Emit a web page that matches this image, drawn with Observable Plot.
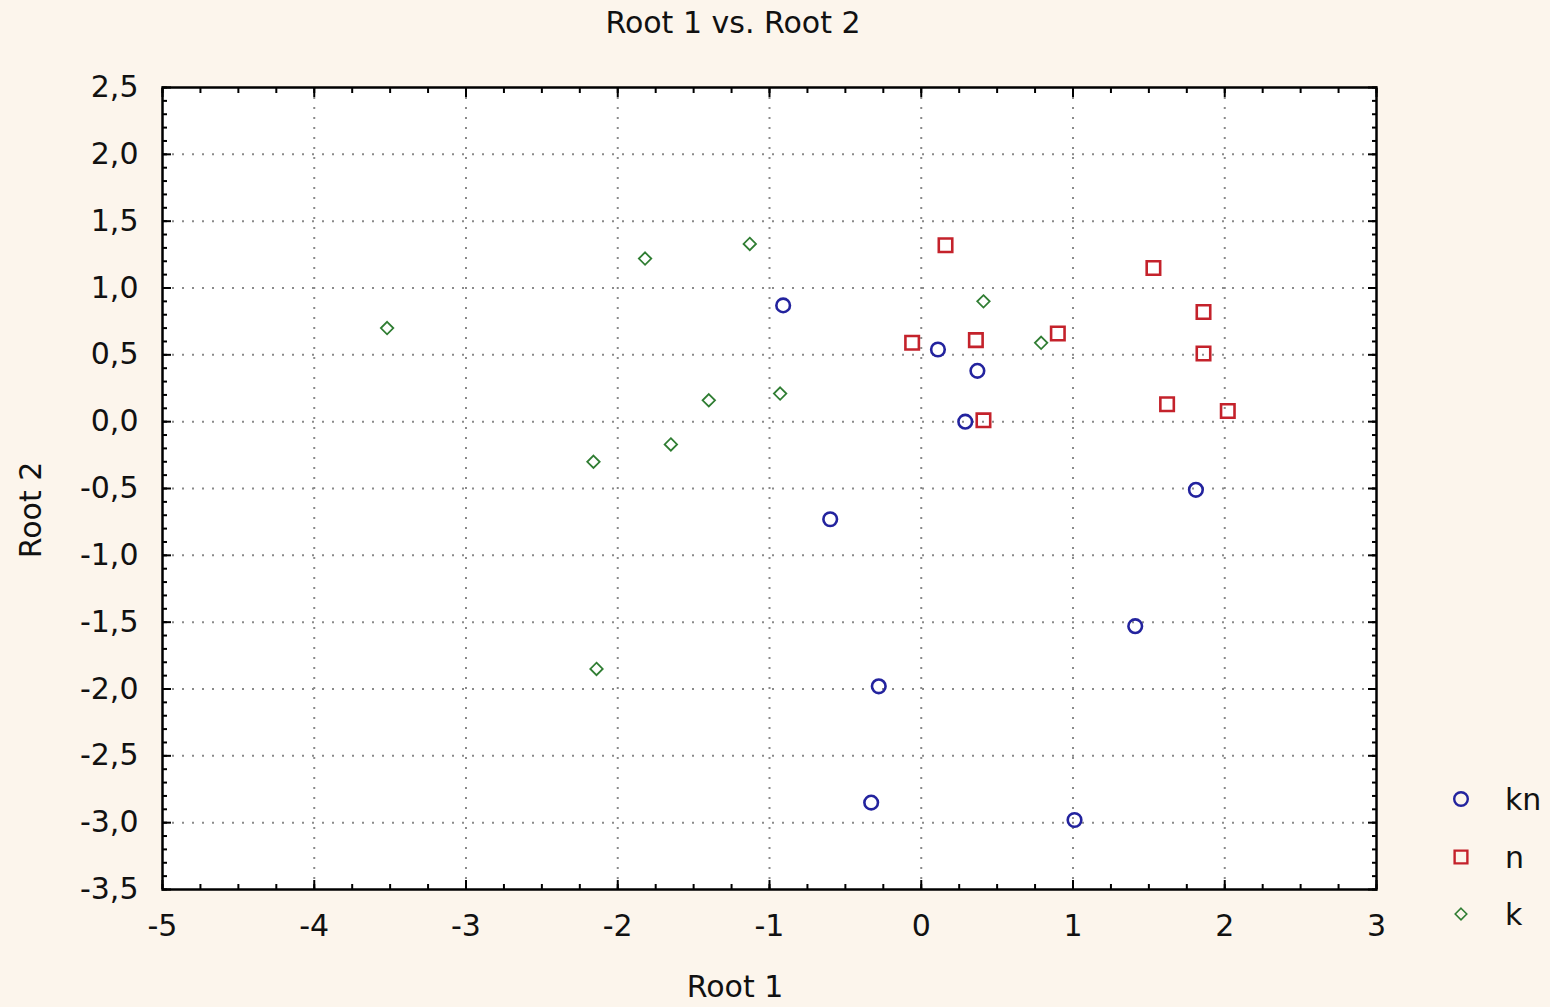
<!DOCTYPE html>
<html><head><meta charset="utf-8">
<script src="https://cdn.jsdelivr.net/npm/d3@7"></script>
<script src="https://cdn.jsdelivr.net/npm/@observablehq/plot@0.6"></script>
<style>
html,body{margin:0;padding:0;background:#fcf5ec;}
#wrap{position:relative;width:1550px;height:1007px;background:#fcf5ec;font-family:"DejaVu Sans",sans-serif;color:#111;overflow:hidden;}
#wrap svg.plot{position:absolute;left:0;top:0;}
.lbl{position:absolute;font-size:30px;line-height:30px;white-space:nowrap;}
#title{left:0;width:1466px;text-align:center;top:8px;}
#xlabel{left:0;width:1470px;text-align:center;top:972px;}
#ylabel{left:-19px;width:100px;text-align:center;top:495px;transform:rotate(-90deg);}
#legend{position:absolute;left:1440px;top:780px;}
</style></head><body>
<div id="wrap">
  <div id="title" class="lbl">Root 1 vs. Root 2</div>
  <div id="xlabel" class="lbl">Root 1</div>
  <div id="ylabel" class="lbl">Root 2</div>
</div>
<script>
// Series: kn (blue circles)
const knRoot1 = [-0.91, 0.11, 0.37, 0.29, -0.60, 1.81, 1.41, -0.28, -0.33, 1.01];
const knRoot2 = [0.87, 0.54, 0.38, 0.00, -0.73, -0.51, -1.53, -1.98, -2.85, -2.98];
// Series: n (red squares)
const nRoot1 = [0.16, 1.53, 1.86, -0.06, 0.36, 0.90, 1.86, 1.62, 2.02, 0.41];
const nRoot2 = [1.32, 1.15, 0.82, 0.59, 0.61, 0.66, 0.51, 0.13, 0.08, 0.01];
// Series: k (green diamonds)
const kRoot1 = [-1.82, -1.13, -1.40, -0.93, -1.65, 0.41, 0.79, -3.52, -2.16, -2.14];
const kRoot2 = [1.22, 1.33, 0.16, 0.21, -0.17, 0.90, 0.59, 0.70, -0.30, -1.85];

const seriesNames = ["kn", "n", "k"];
const xTickValues = [-5, -4, -3, -2, -1, 0, 1, 2, 3];
const yTickValues = [-3.5, -3.0, -2.5, -2.0, -1.5, -1.0, -0.5, 0.0, 0.5, 1.0, 1.5, 2.0, 2.5];

const colors = {kn: "#23239e", n: "#c4222b", k: "#2f7d32"};
const toRows = (xs, ys) => xs.map((x, i) => ({x, y: ys[i]}));
const kn = toRows(knRoot1, knRoot2);
const n = toRows(nRoot1, nRoot2);
const k = toRows(kRoot1, kRoot2);

const xMinor = d3.range(-20, 13).map(v => v / 4);
const yMinor = d3.range(-35, 26).map(v => v / 10);
const xGrid = xTickValues.slice(1, -1);
const yGrid = yTickValues.slice(1, -1);

const fmtY = d => d.toFixed(1).replace(".", ",");
const fmtX = d => String(d);

const gridStyle = {stroke: "#8a8a8a", strokeOpacity: 1, strokeDasharray: "2,8", strokeWidth: 2};
const tickStyle = {fill: null, stroke: "#000", strokeWidth: 2};

const chart = Plot.plot({
  width: 1550, height: 1007,
  marginLeft: 162, marginRight: 174, marginTop: 87, marginBottom: 118,
  style: {background: "transparent", fontFamily: "DejaVu Sans, sans-serif", fontSize: "30px", color: "#111", overflow: "visible"},
  x: {domain: [-5, 3]},
  y: {domain: [-3.5, 2.5]},
  marks: [
    Plot.frame({fill: "white", stroke: "none"}),
    Plot.gridX(xGrid, gridStyle),
    Plot.gridY(yGrid, gridStyle),
    // labels
    Plot.axisX(xTickValues, {anchor: "bottom", stroke: null, tickSize: 0, tickPadding: 25, tickFormat: fmtX, label: null, fill: "#111"}),
    Plot.axisY(yTickValues, {anchor: "left", stroke: null, tickSize: 0, tickPadding: 24, tickFormat: fmtY, label: null, fill: "#111"}),
    // inward minor ticks
    Plot.axisX(xMinor, {anchor: "bottom", tickSize: -5, label: null, ...tickStyle}),
    Plot.axisX(xMinor, {anchor: "top", tickSize: -5, label: null, ...tickStyle}),
    Plot.axisY(yMinor, {anchor: "left", tickSize: -5, label: null, ...tickStyle}),
    Plot.axisY(yMinor, {anchor: "right", tickSize: -5, label: null, ...tickStyle}),
    // inward major ticks
    Plot.axisX(xTickValues, {anchor: "bottom", tickSize: -9, label: null, ...tickStyle}),
    Plot.axisX(xTickValues, {anchor: "top", tickSize: -9, label: null, ...tickStyle}),
    Plot.axisY(yTickValues, {anchor: "left", tickSize: -9, label: null, ...tickStyle}),
    Plot.axisY(yTickValues, {anchor: "right", tickSize: -9, label: null, ...tickStyle}),
    // data
    Plot.dot(k, {x: "x", y: "y", symbol: "diamond2", r: 5.6, stroke: colors.k, strokeWidth: 1.8, fill: "none"}),
    Plot.dot(n, {x: "x", y: "y", symbol: "square", r: 7.6, stroke: colors.n, strokeWidth: 2.6, fill: "none"}),
    Plot.dot(kn, {x: "x", y: "y", symbol: "circle", r: 6.8, stroke: colors.kn, strokeWidth: 2.6, fill: "none"}),
    Plot.frame({stroke: "#000", strokeWidth: 2.5})
  ]
});
chart.classList.add("plot");
document.getElementById("wrap").appendChild(chart);

// Legend
const symbolMap = {kn: [d3.symbolCircle, 6.8, 2.4], n: [d3.symbolSquare, 7.2, 2.4], k: [d3.symbolDiamond2, 5.2, 1.6]};
const leg = d3.select("#wrap").append("svg").attr("id", "legend");
leg.attr("width", 110).attr("height", 160)
  .style("font-family", "DejaVu Sans, sans-serif").style("font-size", "30px");
const rowsY = [19, 77, 134];
seriesNames.forEach((name, i) => {
  const [sym, r, sw] = symbolMap[name];
  leg.append("path")
    .attr("d", d3.symbol(sym, Math.PI * r * r)())
    .attr("transform", `translate(21,${rowsY[i]})`)
    .attr("fill", "none").attr("stroke", colors[name]).attr("stroke-width", sw);
  leg.append("text").attr("x", 65).attr("y", rowsY[i]).attr("dy", "0.36em")
    .attr("fill", "#111").text(name);
});
</script>
</body></html>
